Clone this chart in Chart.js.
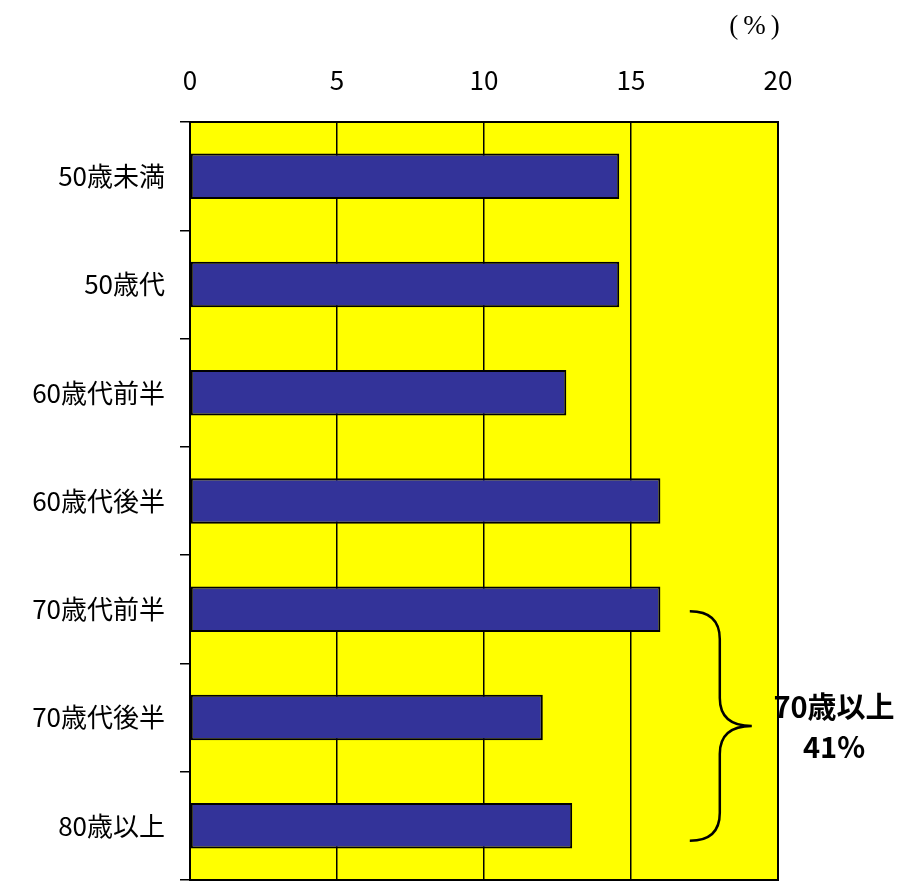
<!DOCTYPE html>
<html>
<head>
<meta charset="utf-8">
<script src="https://cdn.jsdelivr.net/npm/chart.js@4"></script>
<style>
  html, body { margin: 0; padding: 0; background: #fff; }
  #wrap { width: 901px; height: 883px; }
</style>
</head>
<body>
<div id="wrap"><canvas id="ageChart" width="901" height="883"></canvas></div>
<script>
// Age groups and their share (%)
const ageGroups = ['50歳未満', '50歳代', '60歳代前半', '60歳代後半', '70歳代前半', '70歳代後半', '80歳以上'];
const shares = [14.6, 14.6, 12.8, 16.0, 16.0, 12.0, 13.0];
const xTicks = [0, 5, 10, 15, 20];
const unitLabel = '(%)';
const braceFrom = '70歳代前半';
const braceTo = '80歳以上';
const braceText = ['70歳以上', '41%'];

const fontFamily = '"Noto Sans CJK JP", "DejaVu Sans", sans-serif';

// Yellow plot background + frame
const plotBackground = {
  id: 'plotBackground',
  beforeDraw(chart) {
    const { ctx, chartArea: a } = chart;
    ctx.save();
    ctx.fillStyle = '#ffff00';
    ctx.fillRect(a.left, a.top, a.right - a.left, a.bottom - a.top);
    ctx.restore();
  },
  afterDraw(chart) {
    const { ctx, chartArea: a } = chart;
    ctx.save();
    ctx.strokeStyle = '#000';
    ctx.lineWidth = 2;
    ctx.strokeRect(a.left, a.top, a.right - a.left, a.bottom - a.top);
    ctx.restore();
  }
};

// Curly brace and note for the 70+ groups
const braceNote = {
  id: 'braceNote',
  afterDraw(chart) {
    const { ctx } = chart;
    const x = chart.scales.x, y = chart.scales.y;
    const y0 = y.getPixelForValue(ageGroups.indexOf(braceFrom)) + 2;
    const y1 = y.getPixelForValue(ageGroups.indexOf(braceTo)) + 15;
    const ym = (y0 + y1) / 2;
    const xa = x.getPixelForValue(17);
    const xb = xa + 30;
    const xc = xa + 62;
    ctx.save();
    ctx.strokeStyle = '#000';
    ctx.lineWidth = 2.5;
    ctx.beginPath();
    ctx.moveTo(xa, y0);
    ctx.quadraticCurveTo(xb, y0, xb, y0 + 28);
    ctx.lineTo(xb, ym - 28);
    ctx.quadraticCurveTo(xb, ym, xc, ym);
    ctx.quadraticCurveTo(xb, ym, xb, ym + 28);
    ctx.lineTo(xb, y1 - 28);
    ctx.quadraticCurveTo(xb, y1, xa, y1);
    ctx.stroke();

    ctx.fillStyle = '#000';
    ctx.font = 'bold 29px ' + fontFamily;
    ctx.textAlign = 'center';
    ctx.textBaseline = 'middle';
    ctx.fillText(braceText[0], 834, ym - 19);
    ctx.fillText(braceText[1], 834, ym + 21);

    ctx.font = '27px "Liberation Serif", serif';
    ctx.letterSpacing = '5px';
    ctx.fillText(unitLabel, 757, 27);
    ctx.restore();
  }
};

new Chart(document.getElementById('ageChart'), {
  type: 'bar',
  data: {
    labels: ageGroups,
    datasets: [{
      data: shares,
      backgroundColor: '#333399',
      borderColor: '#000',
      borderWidth: 2,
      borderSkipped: false,
      categoryPercentage: 1,
      barPercentage: 0.42
    }]
  },
  options: {
    indexAxis: 'y',
    responsive: false,
    animation: false,
    layout: { padding: { top: 0, right: 123, bottom: 3, left: 0 } },
    plugins: { legend: { display: false }, tooltip: { enabled: false } },
    scales: {
      x: {
        position: 'top',
        min: 0,
        max: 20,
        afterBuildTicks(scale) { scale.ticks = xTicks.map(v => ({ value: v })); },
        afterFit(scale) { scale.height = 122; scale.paddingLeft = 0; scale.paddingRight = 0; },
        grid: { color: '#000', lineWidth: 1.5, drawTicks: false },
        border: { color: '#000', width: 2 },
        ticks: { color: '#000', padding: 26, font: { family: fontFamily, size: 26 } }
      },
      y: {
        afterFit(scale) { scale.width = 190; scale.paddingTop = 0; scale.paddingBottom = 0; },
        grid: { drawOnChartArea: false, drawTicks: true, tickLength: 10, color: '#000', lineWidth: 1.5, offset: true },
        border: { color: '#000', width: 2 },
        ticks: { color: '#000', padding: 15, font: { family: fontFamily, size: 26 } }
      }
    }
  },
  plugins: [plotBackground, braceNote]
});
</script>
</body>
</html>
